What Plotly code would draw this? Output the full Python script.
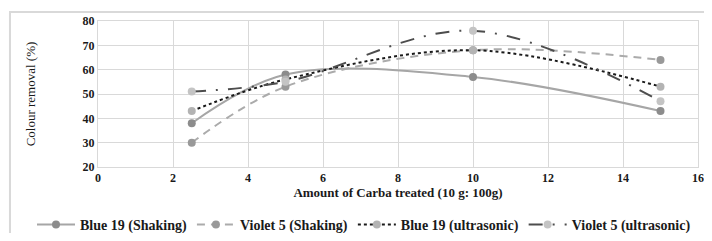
import plotly.graph_objects as go

x_vals = [2.5, 5, 10, 15]
blue19_shaking = [38, 58, 57, 43]
violet5_shaking = [30, 53, 68, 64]
blue19_ultra = [43, 56, 68, 53]
violet5_ultra = [51, 55, 76, 47]
names = ["Blue 19 (Shaking)", "Violet 5 (Shaking)", "Blue 19 (ultrasonic)", "Violet 5 (ultrasonic)"]
x_ticks = [0, 2, 4, 6, 8, 10, 12, 14, 16]
y_ticks = [20, 30, 40, 50, 60, 70, 80]

series = [blue19_shaking, violet5_shaking, blue19_ultra, violet5_ultra]
line_styles = [
    dict(color="#a6a6a6", width=2, dash="solid"),
    dict(color="#ababab", width=2, dash="8px,6px"),
    dict(color="#1a1a1a", width=2, dash="dot"),
    dict(color="#4d4d4d", width=2, dash="14px,10px,2px,10px"),
]
marker_colors = ["#8c8c8c", "#999999", "#b3b3b3", "#c4c4c4"]

FONT = "Liberation Serif"
fig = go.Figure()
for name, ys, ls, mc in zip(names, series, line_styles, marker_colors):
    fig.add_trace(go.Scatter(
        x=x_vals, y=ys, name=name, mode="lines+markers",
        line=dict(shape="spline", smoothing=1.0, **ls),
        marker=dict(size=8, color=mc),
    ))

fig.update_layout(
    width=696, height=225,
    margin=dict(l=90, r=6, t=13, b=66, autoexpand=False),
    paper_bgcolor="white", plot_bgcolor="white",
    font=dict(family=FONT, size=12, color="#1a1a1a"),
    showlegend=True,
    legend=dict(orientation="h", x=-0.11, xanchor="left",
                y=-0.397, yanchor="middle",
                font=dict(family=FONT, size=14, color="#1a1a1a", weight="bold"),
                itemwidth=38, tracegroupgap=0),
    shapes=[dict(type="rect", xref="paper", yref="paper", x0=-0.1467, x1=1.05,
                 y0=-0.7, y1=1.0616, line=dict(color="#d9d9d9", width=2), layer="below")],
)
fig.update_xaxes(range=[0, 16], tickvals=x_ticks, showgrid=True, gridcolor="#d9d9d9",
                 zeroline=False, showline=True, linecolor="#d9d9d9", mirror=True,
                 tickfont=dict(family=FONT, size=12, weight="bold"), ticks="",
                 title=dict(text="Amount of Carba treated (10 g: 100g)", standoff=3,
                            font=dict(family=FONT, size=13, weight="bold")))
fig.update_yaxes(range=[20, 80], tickvals=y_ticks, showgrid=True, gridcolor="#d9d9d9",
                 zeroline=False, showline=True, linecolor="#d9d9d9", mirror=True,
                 tickfont=dict(family=FONT, size=12, weight="bold"), ticks="",
                 title=dict(text="Colour removal (%)", standoff=44,
                            font=dict(family=FONT, size=13)))

fig.write_html("out.html")
